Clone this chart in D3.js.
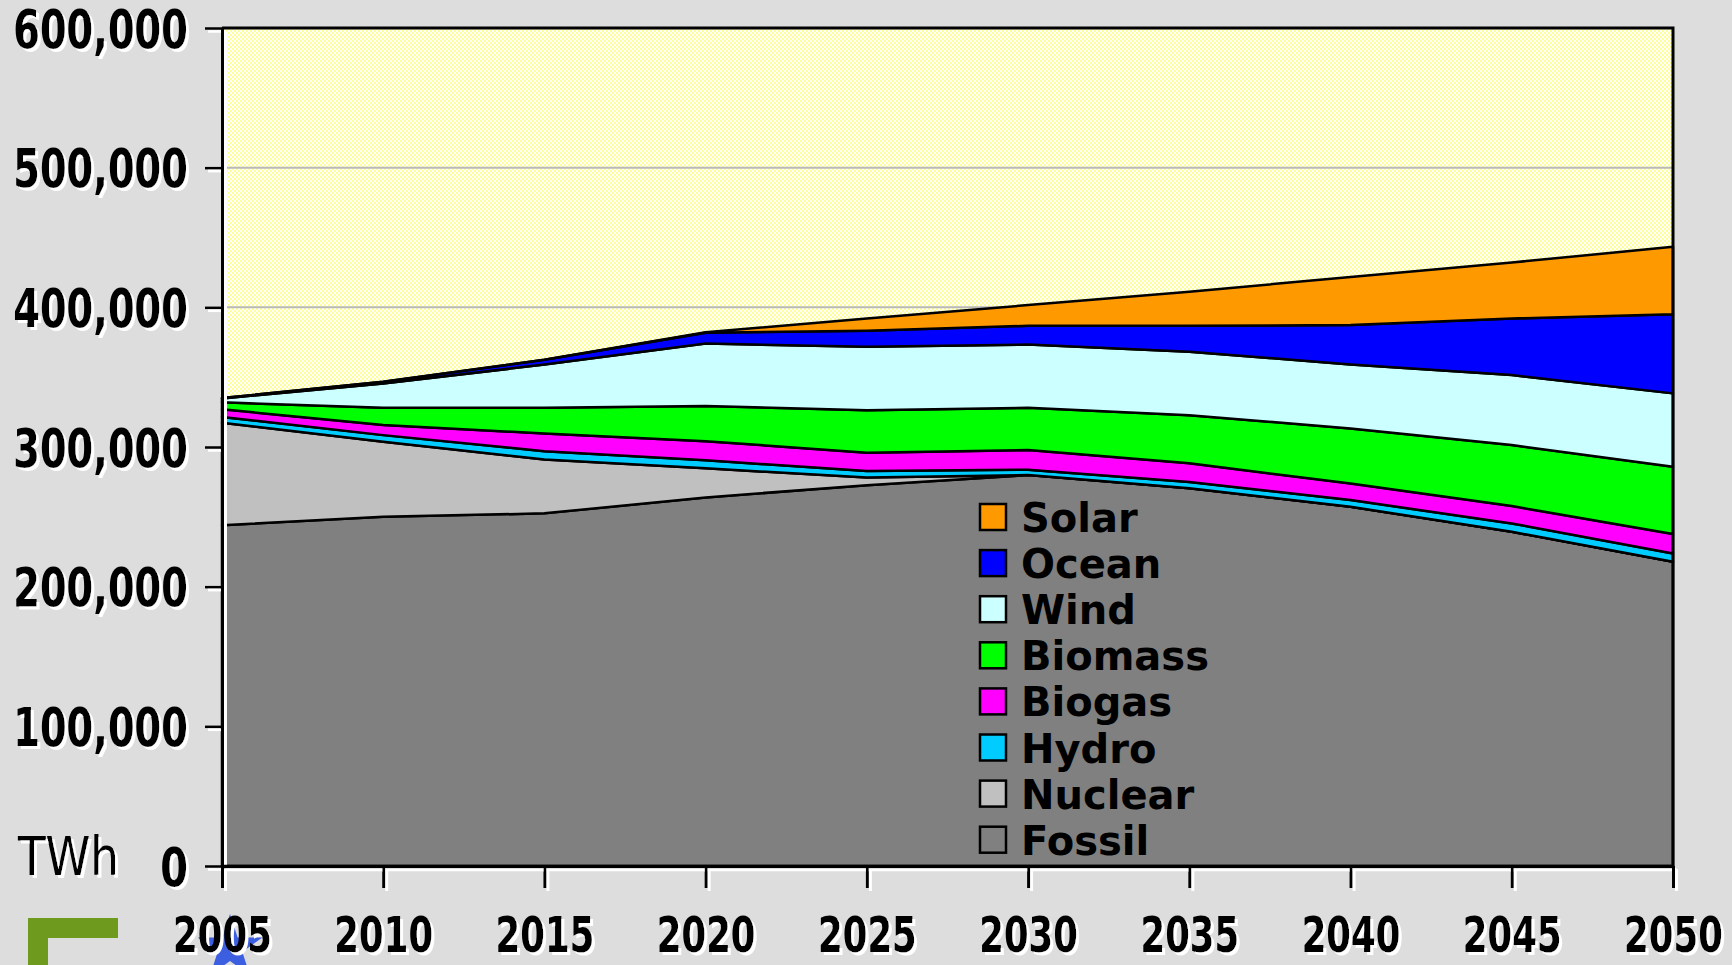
<!DOCTYPE html>
<html>
<head>
<meta charset="utf-8">
<script src="https://cdn.jsdelivr.net/npm/d3@7"></script>
<style>
  body { margin: 0; background: #dddddd; }
  svg { display: block; }
</style>
</head>
<body>
<div id="chart"></div>
<script>
// data
const years = [2005, 2010, 2015, 2020, 2025, 2030, 2035, 2040, 2045, 2050];
const fossil  = [244000, 250000, 252500, 263900, 272700, 279900, 270500, 257200, 239300, 217800];
const nuclear = [73300, 53700, 38600, 20800, 5500, 0, 0, 0, 0, 0];
const hydro   = [4200, 4800, 5900, 5800, 4600, 3800, 4500, 4800, 6000, 6000];
const biogas  = [5500, 7200, 12700, 13700, 13100, 14100, 13300, 11900, 12400, 13900];
const biomass = [5000, 12400, 18400, 25100, 30500, 30300, 34500, 39400, 43700, 48100];
const wind    = [2800, 17400, 30900, 44800, 45300, 45300, 45400, 45800, 50100, 52600];
const ocean   = [200, 1200, 3500, 7700, 11500, 13400, 18600, 28200, 40500, 56700];
const solar   = [0, 0, 0, 300, 8800, 14800, 24300, 34500, 40100, 48200];

const seriesNames  = ["Fossil", "Nuclear", "Hydro", "Biogas", "Biomass", "Wind", "Ocean", "Solar"];
const seriesValues = [fossil, nuclear, hydro, biogas, biomass, wind, ocean, solar];
const seriesColors = ["#808080", "#c0c0c0", "#00ccff", "#ff00ff", "#00ff00", "#ccffff", "#0000ff", "#ff9900"];
const yTicks = [0, 100000, 200000, 300000, 400000, 500000, 600000];
const unitLabel = "TWh";

const W = 1732, H = 965;
const plotLeft = 222, plotRight = 1673, plotTop = 28, plotBottom = 866;

const svg = d3.select("#chart")
    .append("svg")
    .attr("width", W)
    .attr("height", H);

const defs = svg.append("defs");

// pale yellow dotted fill of the plot area
const pat = defs.append("pattern")
    .attr("id", "dots")
    .attr("width", 4)
    .attr("height", 4)
    .attr("patternUnits", "userSpaceOnUse");
pat.append("rect").attr("width", 4).attr("height", 4).attr("fill", "#ffffff");
pat.append("rect").attr("width", 2).attr("height", 2).attr("fill", "#ffff99");
pat.append("rect").attr("x", 2).attr("y", 2).attr("width", 2).attr("height", 2).attr("fill", "#ffff99");

// white drop shadow behind the axis texts
const f = defs.append("filter")
    .attr("id", "shadow")
    .attr("x", "-20%").attr("y", "-20%")
    .attr("width", "150%").attr("height", "160%");
f.append("feOffset").attr("in", "SourceAlpha").attr("dx", 3).attr("dy", 3).attr("result", "off");
f.append("feFlood").attr("flood-color", "#ffffff").attr("result", "white");
f.append("feComposite").attr("in", "white").attr("in2", "off").attr("operator", "in").attr("result", "sh");
const merge = f.append("feMerge");
merge.append("feMergeNode").attr("in", "sh");
merge.append("feMergeNode").attr("in", "SourceGraphic");

const x = d3.scaleLinear()
    .domain([years[0], years[years.length - 1]])
    .range([plotLeft, plotRight]);

const y = d3.scaleLinear()
    .domain([0, 600000])
    .range([plotBottom, plotTop]);

// slide decorations peeking in at the bottom left
const deco = svg.append("g");
deco.append("rect").attr("x", 28).attr("y", 918).attr("width", 90).attr("height", 20).attr("fill", "#6e9b1e");
deco.append("rect").attr("x", 28).attr("y", 918).attr("width", 20).attr("height", 47).attr("fill", "#6e9b1e");
deco.append("path")
    .attr("d", d3.symbol().type(d3.symbolStar).size(1300)())
    .attr("transform", "translate(230,948)")
    .attr("fill", "#3b5fe0");

// plot background
svg.append("rect")
    .attr("x", plotLeft)
    .attr("y", plotTop)
    .attr("width", plotRight - plotLeft)
    .attr("height", plotBottom - plotTop)
    .attr("fill", "url(#dots)");

// gridlines
svg.append("g")
    .selectAll("line")
    .data(yTicks.filter(t => t > 0 && t < 600000))
    .enter().append("line")
    .attr("x1", plotLeft)
    .attr("x2", plotRight)
    .attr("y1", d => y(d))
    .attr("y2", d => y(d))
    .attr("stroke", "#b8b8b8")
    .attr("stroke-width", 2);

// stacked areas
const rows = years.map((yr, i) => {
    const r = { year: yr };
    seriesNames.forEach((name, k) => { r[name] = seriesValues[k][i]; });
    return r;
});

const stacked = d3.stack().keys(seriesNames)(rows);

const area = d3.area()
    .x(d => x(d.data.year))
    .y0(d => y(d[0]))
    .y1(d => y(d[1]));

svg.append("g")
    .selectAll("path")
    .data(stacked)
    .enter().append("path")
    .attr("d", area)
    .attr("fill", (d, i) => seriesColors[i])
    .attr("stroke", "#000")
    .attr("stroke-width", 2.5)
    .attr("stroke-linejoin", "round");

// frame: top and right border
svg.append("path")
    .attr("d", `M${plotLeft},${plotTop}H${plotRight}V${plotBottom}`)
    .attr("fill", "none")
    .attr("stroke", "#000")
    .attr("stroke-width", 3);

// y axis
const yAxis = svg.append("g")
    .attr("transform", `translate(${plotLeft},0)`)
    .attr("filter", "url(#shadow)")
    .call(d3.axisLeft(y).tickValues(yTicks).tickSize(17).tickSizeOuter(0).tickFormat(d3.format(",")));
yAxis.select(".domain").attr("stroke-width", 3);
yAxis.selectAll(".tick line").attr("stroke-width", 2.5);
yAxis.selectAll(".tick text")
    .attr("x", -34)
    .attr("dy", 19)
    .attr("font-family", "'DejaVu Sans', sans-serif")
    .attr("font-weight", "bold")
    .attr("font-size", 53)
    .attr("fill", "#000")
    .attr("lengthAdjust", "spacingAndGlyphs")
    .attr("textLength", d => {
        const s = d3.format(",")(d);
        const digits = s.replace(/,/g, "").length;
        return digits * 27.8 + (s.length - digits) * 8;
    });

// x axis (labels squeezed horizontally, like the condensed face of the original)
const xAxis = svg.append("g")
    .attr("transform", `translate(0,${plotBottom})`)
    .attr("filter", "url(#shadow)")
    .call(d3.axisBottom(x).tickValues(years).tickSize(22).tickSizeOuter(0).tickFormat(d3.format("d")));
xAxis.select(".domain").attr("stroke-width", 3.5);
xAxis.selectAll(".tick line").attr("stroke-width", 3);
xAxis.selectAll(".tick text")
    .attr("y", 86)
    .attr("dy", 0)
    .attr("font-family", "'DejaVu Sans', sans-serif")
    .attr("font-weight", "bold")
    .attr("font-size", 50)
    .attr("fill", "#000")
    .attr("transform", "scale(0.71,1)");

// unit label
svg.append("text")
    .attr("x", 18)
    .attr("y", 875)
    .attr("filter", "url(#shadow)")
    .attr("font-family", "'DejaVu Sans', sans-serif")
    .attr("font-size", 53)
    .attr("lengthAdjust", "spacingAndGlyphs")
    .attr("textLength", 101)
    .text(unitLabel);

// legend (top to bottom: Solar ... Fossil)
const legendItems = seriesNames.map((n, i) => ({ name: n, color: seriesColors[i] })).reverse();
const legend = svg.append("g")
    .attr("transform", "translate(980,517)");

const item = legend.selectAll("g")
    .data(legendItems)
    .enter().append("g")
    .attr("transform", (d, i) => `translate(0,${i * 46.1})`);

item.append("rect")
    .attr("x", 0)
    .attr("y", -13)
    .attr("width", 26)
    .attr("height", 26)
    .attr("fill", d => d.color)
    .attr("stroke", "#000")
    .attr("stroke-width", 2.5);

item.append("text")
    .attr("x", 41)
    .attr("y", 15)
    .attr("font-family", "'DejaVu Sans', sans-serif")
    .attr("font-weight", "bold")
    .attr("font-size", 40)
    .attr("fill", "#000")
    .text(d => d.name);
</script>
</body>
</html>
